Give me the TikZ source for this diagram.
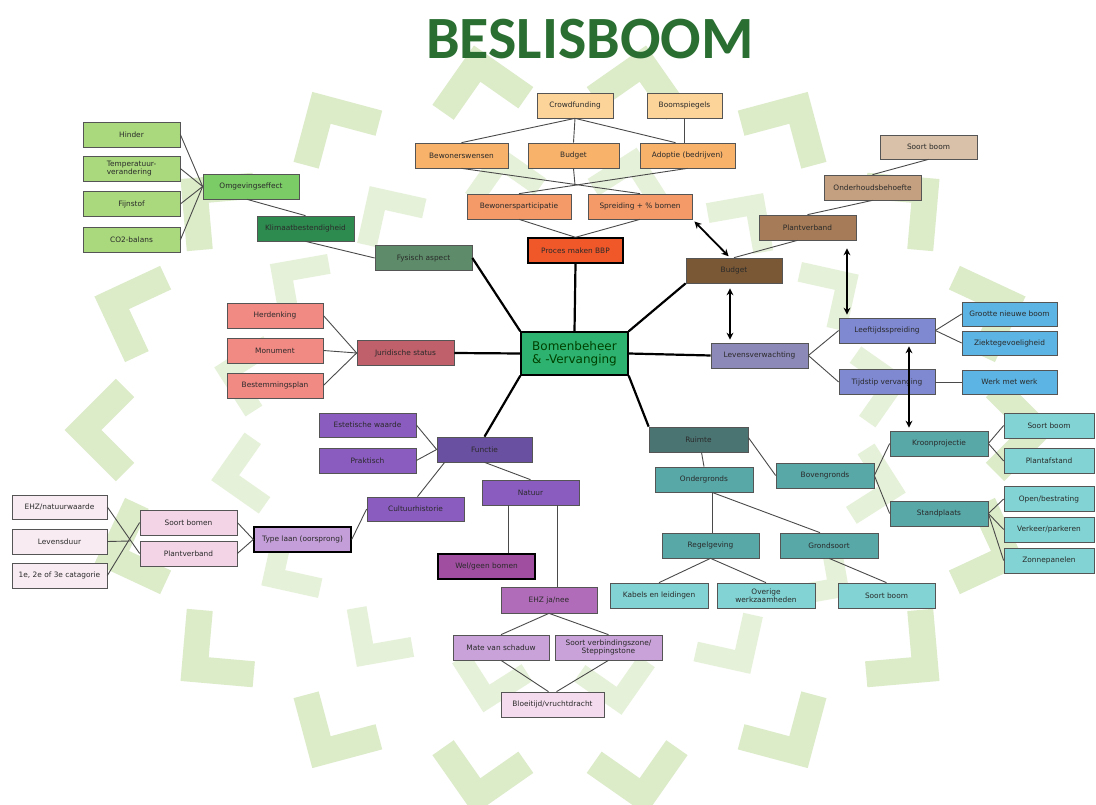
\documentclass[tikz,border=0pt]{standalone}
\usepackage{fontspec}
\setmainfont{DejaVu Sans}
\newfontfamily\titlefont{Carlito}
\usetikzlibrary{arrows.meta,calc}
\definecolor{bordc}{HTML}{555555}
\definecolor{linec}{HTML}{4A4A4A}
\definecolor{txtc}{HTML}{2A2A2A}
\definecolor{chevc}{HTML}{DCEBC8}
\definecolor{chevd}{HTML}{E6F1D9}
\definecolor{titlec}{HTML}{2A6E32}
\definecolor{gLight}{HTML}{A9D97C}
\definecolor{gMid}{HTML}{7BCB66}
\definecolor{gDark}{HTML}{2E8B50}
\definecolor{gGray}{HTML}{5E8C6A}
\definecolor{gCenter}{HTML}{2DB36F}
\definecolor{oPale}{HTML}{FCD49A}
\definecolor{oMid}{HTML}{F8B26A}
\definecolor{oDeep}{HTML}{F49A68}
\definecolor{oRed}{HTML}{F0582A}
\definecolor{bPale}{HTML}{D8C1A8}
\definecolor{bMid}{HTML}{C4A080}
\definecolor{bDeep}{HTML}{A67C58}
\definecolor{bDark}{HTML}{7A5835}
\definecolor{rLight}{HTML}{F28A84}
\definecolor{rDark}{HTML}{C0606A}
\definecolor{lavGray}{HTML}{8C88B8}
\definecolor{lav}{HTML}{7F89D2}
\definecolor{skyb}{HTML}{5CB4E4}
\definecolor{pMid}{HTML}{8A5CC0}
\definecolor{pDark}{HTML}{6A50A0}
\definecolor{pLight}{HTML}{C49ED8}
\definecolor{pPink}{HTML}{F2D4E6}
\definecolor{pPale}{HTML}{F8ECF2}
\definecolor{pMag}{HTML}{A04EA0}
\definecolor{pOrch}{HTML}{B06CB8}
\definecolor{pLil}{HTML}{C8A2D8}
\definecolor{pBlush}{HTML}{F4DCEE}
\definecolor{tDark}{HTML}{4A7472}
\definecolor{tMid}{HTML}{58A8A8}
\definecolor{tLight}{HTML}{82D4D4}
\begin{document}
\begin{tikzpicture}[x=1pt,y=-1pt,
  bx/.style={draw=bordc, line width=0.7pt, inner sep=1pt, minimum width=97pt,
    minimum height=25pt, font=\fontsize{7.4}{8.4}\selectfont, align=center, text=txtc},
  thk/.style={draw=black, line width=1.4pt},
  ln/.style={draw=linec, line width=0.9pt},
  sp/.style={draw=black, line width=2.2pt},
  arr/.style={draw=black, line width=1.8pt, {Stealth[length=7pt,width=7pt]}-{Stealth[length=7pt,width=7pt]}},
  chev/.style={draw=chevc, line width=26pt, line join=miter, line cap=butt},
  chevi/.style={draw=chevd, line width=20pt, line join=miter, line cap=butt}]
\useasboundingbox (0,0) rectangle (1096,805);
\fill[white] (0,0) rectangle (1096,805);
% background chevrons: two rings pointing outwards
\foreach \a in {0,20,...,340}{
  \pgfmathsetmacro\px{560+465*cos(\a)}
  \pgfmathsetmacro\py{430-360*sin(\a)}
  \begin{scope}[shift={(\px,\py)}, rotate=\a]
    \draw[chev] (-30,-42) -- (12,0) -- (-30,42);
  \end{scope}
}
\foreach \a in {10,32.5,...,355}{
  \pgfmathsetmacro\px{560+330*cos(\a)}
  \pgfmathsetmacro\py{430-265*sin(\a)}
  \begin{scope}[shift={(\px,\py)}, rotate=\a]
    \draw[chevi] (-24,-34) -- (10,0) -- (-24,34);
  \end{scope}
}
% title
\node[font=\titlefont\bfseries\fontsize{60}{60}\selectfont, text=titlec] (title) at (590,39) {BESLISBOOM};

% centre
\node[bx, thk, fill=gCenter, minimum width=107pt, minimum height=43pt,
  font=\fontsize{12}{13.5}\selectfont, text=black!75!green] (ctr) at (574.5,353.5) {Bomenbeheer\\\& -Vervanging};

% green branch
\node[bx, fill=gLight] (hinder) at (131.5,134.5) {Hinder};
\node[bx, fill=gLight, align=left] (temp) at (131.5,168.5) {Temperatuur-\\verandering};
\node[bx, fill=gLight] (fijn) at (131.5,204) {Fijnstof};
\node[bx, fill=gLight] (co2) at (131.5,240) {CO2-balans};
\node[bx, fill=gMid, minimum width=96pt] (omg) at (251,186.5) {Omgevingseffect};
\node[bx, fill=gDark] (klim) at (305.5,228.5) {Klimaatbestendigheid};
\node[bx, fill=gGray] (fys) at (423.5,258) {Fysisch aspect};

% orange branch
\node[bx, fill=oPale, minimum width=76pt] (crowd) at (575,105.5) {Crowdfunding};
\node[bx, fill=oPale, minimum width=75pt] (spieg) at (684.5,105.5) {Boomspiegels};
\node[bx, fill=oMid, minimum width=93pt] (bwens) at (461.5,155.5) {Bewonerswensen};
\node[bx, fill=oMid, minimum width=91pt] (obud) at (573.5,155.5) {Budget};
\node[bx, fill=oMid, minimum width=95pt] (adopt) at (687.5,155.5) {Adoptie (bedrijven)};
\node[bx, fill=oDeep, minimum width=104pt] (bpart) at (519,206.5) {Bewonersparticipatie};
\node[bx, fill=oDeep, minimum width=104pt] (spreid) at (640,206.5) {Spreiding + \% bomen};
\node[bx, thk, fill=oRed, minimum width=95pt] (proces) at (575.5,250.5) {Proces maken BBP};

% brown branch
\node[bx, fill=bPale, minimum height=24pt] (bsoort) at (928.5,147) {Soort boom};
\node[bx, fill=bMid] (onder) at (872.5,187.5) {Onderhoudsbehoefte};
\node[bx, fill=bDeep] (bplant) at (807.5,227.5) {Plantverband};
\node[bx, fill=bDark, minimum width=96pt] (bbud) at (734,270.5) {Budget};

% red branch
\node[bx, fill=rLight, minimum width=96pt] (herd) at (275,315.5) {Herdenking};
\node[bx, fill=rLight, minimum width=96pt] (monu) at (275,350.5) {Monument};
\node[bx, fill=rLight, minimum width=96pt] (best) at (275,385.5) {Bestemmingsplan};
\node[bx, fill=rDark] (jur) at (405.5,353) {Juridische status};

% blue branch
\node[bx, fill=lavGray] (levens) at (759.5,355.5) {Levensverwachting};
\node[bx, fill=lav, minimum width=96pt] (leeft) at (887,330.5) {Leeftijdsspreiding};
\node[bx, fill=lav, minimum width=96pt] (tijd) at (887,382) {Tijdstip vervanging};
\node[bx, fill=skyb, minimum width=95pt, minimum height=24pt] (groot) at (1009.5,314) {Grootte nieuwe boom};
\node[bx, fill=skyb, minimum width=95pt, minimum height=24pt] (ziekte) at (1009.5,343) {Ziektegevoeligheid};
\node[bx, fill=skyb, minimum width=95pt, minimum height=24pt] (werk) at (1009.5,382) {Werk met werk};

% purple branch
\node[bx, fill=pMid, minimum height=24pt] (estet) at (367.5,425) {Estetische waarde};
\node[bx, fill=pMid] (prakt) at (367.5,460.5) {Praktisch};
\node[bx, fill=pDark, minimum width=95pt] (functie) at (484.5,449.5) {Functie};
\node[bx, fill=pMid, minimum height=24pt] (cult) at (415.5,509) {Cultuurhistorie};
\node[bx, thk, fill=pLight] (typel) at (302.5,539.5) {Type laan (oorsprong)};
\node[bx, fill=pPink] (sbomen) at (188.5,522.5) {Soort bomen};
\node[bx, fill=pPink] (pplant) at (188.5,553.5) {Plantverband};
\node[bx, fill=pPale, minimum width=95pt, minimum height=24pt] (ehzn) at (59.5,507) {EHZ/natuurwaarde};
\node[bx, fill=pPale, minimum width=95pt] (levd) at (59.5,541.5) {Levensduur};
\node[bx, fill=pPale, minimum width=95pt] (cat) at (59.5,575.5) {1e, 2e of 3e catagorie};
\node[bx, fill=pMid] (natuur) at (530.5,492.5) {Natuur};
\node[bx, thk, fill=pMag] (welgeen) at (486.5,566.5) {Wel/geen bomen};
\node[bx, fill=pOrch, minimum width=96pt, minimum height=26pt] (ehzjn) at (549,600) {EHZ ja/nee};
\node[bx, fill=pLil, minimum width=96pt] (mate) at (501,647.5) {Mate van schaduw};
\node[bx, fill=pLil, minimum width=107pt] (sverb) at (608.5,647.5) {Soort verbindingszone/\\Steppingstone};
\node[bx, fill=pBlush, minimum width=103pt] (bloei) at (552.5,704.5) {Bloeitijd/vruchtdracht};

% teal branch
\node[bx, fill=tDark, minimum width=99pt] (ruimte) at (698.5,439.5) {Ruimte};
\node[bx, fill=tMid, minimum width=98pt] (ondg) at (704,479.5) {Ondergronds};
\node[bx, fill=tMid, minimum width=98pt] (bovg) at (825,475.5) {Bovengronds};
\node[bx, fill=tMid] (regel) at (710.5,545.5) {Regelgeving};
\node[bx, fill=tMid, minimum width=98pt] (grond) at (829,545.5) {Grondsoort};
\node[bx, fill=tLight, minimum width=98pt] (kabel) at (659,595.5) {Kabels en leidingen};
\node[bx, fill=tLight, minimum width=98pt] (overig) at (766,595.5) {Overige\\werkzaamheden};
\node[bx, fill=tLight] (tsoort) at (886.5,595.5) {Soort boom};
\node[bx, fill=tMid, minimum width=98pt] (kroon) at (939,443.5) {Kroonprojectie};
\node[bx, fill=tMid, minimum width=98pt] (stand) at (939,513.5) {Standplaats};
\node[bx, fill=tLight, minimum width=90pt] (rsoort) at (1049,425.5) {Soort boom};
\node[bx, fill=tLight, minimum width=90pt] (pafst) at (1049,461) {Plantafstand};
\node[bx, fill=tLight, minimum width=90pt] (open) at (1049,499) {Open/bestrating};
\node[bx, fill=tLight, minimum width=90pt] (verk) at (1049,529.5) {Verkeer/parkeren};
\node[bx, fill=tLight, minimum width=90pt] (zon) at (1049,560.5) {Zonnepanelen};

% helper coordinates
\coordinate (bxc) at (575,185);
\coordinate (lvx) at (130,541);

% green connectors
\foreach \n in {hinder,temp,fijn,co2} \draw[ln] (\n.east) -- (omg.west);
\draw[ln] ($(omg.south)+(-4,0)$) -- (klim.north);
\draw[ln] (klim.south) -- (fys.west);
% orange connectors
\draw[ln] (crowd.south) -- (bwens.north);
\draw[ln] (crowd.south) -- (obud.north);
\draw[ln] (crowd.south) -- ($(adopt.north)+(-12,0)$);
\draw[ln] (spieg.south) -- (spieg.south |- adopt.north);
\draw[ln] (bwens.south) -- (spreid.north);
\draw[ln] (adopt.south) -- (bpart.north);
\draw[ln] (obud.south) -- (bxc);
\draw[ln] (bpart.south) -- (proces.north);
\draw[ln] (spreid.south) -- (proces.north);
% brown connectors
\draw[ln] (bsoort.south) -- (onder.north);
\draw[ln] (onder.south) -- (bplant.north);
\draw[ln] ($(bplant.south)+(-10,0)$) -- (bbud.north);
% red connectors
\foreach \n in {herd,monu,best} \draw[ln] (\n.east) -- (jur.west);
% blue connectors
\draw[ln] (levens.east) -- (leeft.west);
\draw[ln] (levens.east) -- (tijd.west);
\draw[ln] (leeft.east) -- (groot.west);
\draw[ln] (leeft.east) -- (ziekte.west);
\draw[ln] (tijd.east) -- (werk.west);
% purple connectors
\draw[ln] (estet.east) -- (functie.west);
\draw[ln] (prakt.east) -- (functie.west);
\draw[ln] ($(cult.north)+(2,0)$) -- ($(functie.south west)+(8,0)$);
\draw[ln] (typel.east) -- (cult.west);
\draw[ln] (sbomen.east) -- (typel.west);
\draw[ln] (pplant.east) -- (typel.west);
\draw[ln] (ehzn.east) -- (pplant.west);
\draw[ln] (cat.east) -- (sbomen.west);
\draw[ln] (levd.east) -- (lvx);
\draw[ln] (functie.south) -- (natuur.north);
\draw[ln] (welgeen.north -| 508,0) -- (natuur.south -| 508,0);
\draw[ln] (ehzjn.north -| 557,0) -- (natuur.south -| 557,0);
\draw[ln] (ehzjn.south) -- (mate.north);
\draw[ln] (ehzjn.south) -- (sverb.north);
\draw[ln] (mate.south) -- ($(bloei.north)+(-4,0)$);
\draw[ln] (sverb.south) -- ($(bloei.north)+(4,0)$);
% teal connectors
\draw[ln] ($(ruimte.south)+(3,0)$) -- (ondg.north);
\draw[ln] ($(ruimte.east)+(0,-2)$) -- (bovg.west);
\draw[ln] ($(ondg.south)+(8,0)$) -- ($(regel.north)+(1.5,0)$);
\draw[ln] ($(ondg.south)+(8,0)$) -- ($(grond.north)+(-9,0)$);
\draw[ln] (regel.south) -- (kabel.north);
\draw[ln] (regel.south) -- (overig.north);
\draw[ln] (grond.south) -- (tsoort.north);
\draw[ln] (bovg.east) -- (kroon.west);
\draw[ln] (bovg.east) -- (stand.west);
\draw[ln] (kroon.east) -- (rsoort.west);
\draw[ln] (kroon.east) -- (pafst.west);
\draw[ln] (stand.east) -- (open.west);
\draw[ln] (stand.east) -- (verk.west);
\draw[ln] (stand.east) -- (zon.west);

% spokes
\draw[sp] (fys.east) -- (ctr.north west);
\draw[sp] (proces.south) -- (ctr.north);
\draw[sp] (ctr.north east) -- (bbud.south west);
\draw[sp] (jur.east) -- (ctr.west);
\draw[sp] (ctr.east) -- (levens.west);
\draw[sp] (ctr.south west) -- (functie.north);
\draw[sp] (ctr.south east) -- (ruimte.north west);

% double arrows
\draw[arr, shorten <=3pt, shorten >=2pt] (spreid.south east) -- ($(bbud.north)+(-4,0)$);
\draw[arr, shorten <=5pt, shorten >=3pt] (bbud.south -| 730,0) -- (levens.north -| 730,0);
\draw[arr, shorten <=8pt, shorten >=3pt] (bplant.south -| 847,0) -- (leeft.north -| 847,0);
\draw[arr, shorten <=3pt, shorten >=3pt] (leeft.south -| 909,0) -- (kroon.north -| 909,0);
\end{tikzpicture}
\end{document}
